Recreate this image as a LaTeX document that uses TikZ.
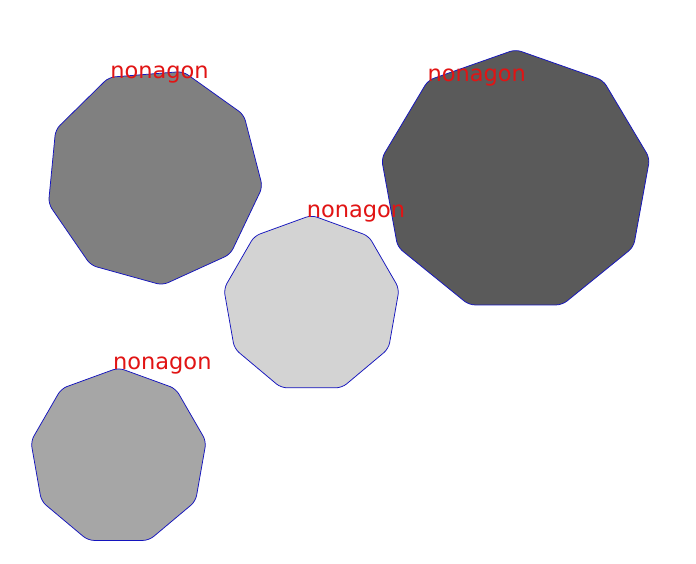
\documentclass[tikz,border=0pt]{standalone}
\usepackage{fontspec}
\usetikzlibrary{shapes.geometric}
\newfontfamily\labfont{DejaVu Sans}
\definecolor{edgeblue}{RGB}{20,20,190}
\definecolor{labred}{RGB}{225,20,20}
\tikzset{
  nona/.style={regular polygon, regular polygon sides=9, draw=edgeblue, line width=0.75pt,
    rounded corners=6pt, inner sep=0pt, outer sep=0pt},
  lab/.style={text=labred, anchor=base, inner sep=0pt, font=\labfont\fontsize{22.5}{23}\selectfont}
}
\begin{document}
\begin{tikzpicture}[x=1pt,y=1pt]
\useasboundingbox (0,0) rectangle (696,564);
\fill[white] (0,0) rectangle (696,564);
% shapes
\node[nona, fill={rgb,255:red,128;green,128;blue,128}, minimum size=218pt, shape border rotate=24.5] (n1) at (154,387.5) {};
\begin{scope}[shift={(515.6,382.8)}, xscale=1.034]
\node[nona, transform shape, fill={rgb,255:red,90;green,90;blue,90}, minimum size=263.4pt] (n2) at (0,0) {};
\end{scope}
\node[nona, fill={rgb,255:red,211;green,211;blue,211}, minimum size=178pt] (n3) at (311.5,259.8) {};
\node[nona, fill={rgb,255:red,166;green,166;blue,166}, minimum size=178pt] (n4) at (118.5,107.2) {};
% labels
\node[lab] (t1) at (159.5,485) {nonagon};
\node[lab] (t2) at (476.7,482.3) {nonagon};
\node[lab] (t3) at (356,346.3) {nonagon};
\node[lab] (t4) at (162.3,194) {nonagon};
\end{tikzpicture}
\end{document}
